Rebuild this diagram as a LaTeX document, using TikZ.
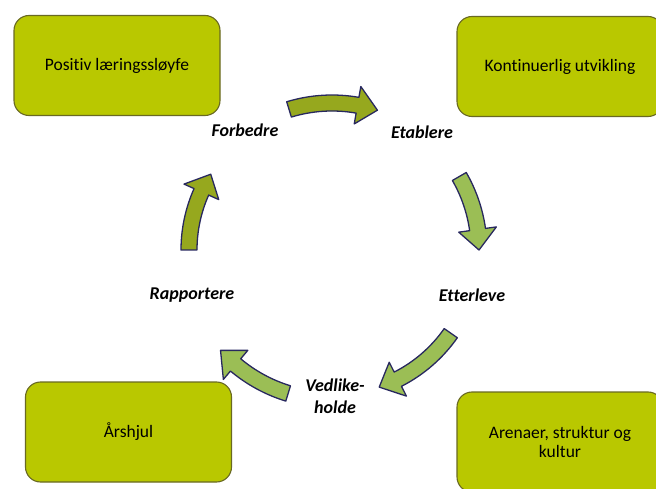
\documentclass[tikz,border=0pt]{standalone}
\usepackage{fontspec}
\setmainfont{Carlito}[Ligatures=NoCommon]
\usepackage{tikz}
\usetikzlibrary{positioning}

\definecolor{boxlime}{RGB}{185,200,0}
\definecolor{boxedge}{RGB}{105,105,35}
\definecolor{arrolive}{RGB}{150,168,30}
\definecolor{arrgreen}{RGB}{155,190,85}
\definecolor{arredge}{RGB}{40,40,95}

% curved block arrow round the centre: #1 start angle, #2 end angle, #3 radius, #4 fill
\newcommand{\bendarrow}[4]{%
  \filldraw[arrline, fill=#4]
    (#1:#3+8) arc[start angle=#1, end angle=#2+8, radius=#3+8]
    -- (#2+8:#3+19) -- (#2:#3) -- (#2+8:#3-19) -- (#2+8:#3-8)
    arc[start angle=#2+8, end angle=#1, radius=#3-8] -- cycle;}

\begin{document}
\begin{tikzpicture}[
    x=1pt, y=1pt,
    box/.style={rectangle, draw=boxedge, line width=1.1pt, fill=boxlime, rounded corners=15pt,
                minimum width=206pt, minimum height=100pt, align=center, font=\fontsize{17.5}{19}\selectfont},
    step label/.style={font=\fontsize{18}{22}\selectfont\bfseries\itshape, align=center},
    arrline/.style={draw=arredge, line width=1.3pt, line join=round}
]
\useasboundingbox (0,0) rectangle (656,488);
\clip (0,0) rectangle (656,488);
% outcome boxes in the corners
\node[box] (loop)  at (117,422.5) {Positiv læringssløyfe};
\node[box] (devel) at (560,421.5) {Kontinuerlig utvikling};
\node[box] (wheel) at (128.5,56)  {Årshjul};
\node[box] (arena) at (560,46)    {Arenaer, struktur og\\ kultur};
% steps of the cycle
\node[step label] (improve)  at (245,358) {Forbedre};
\node[step label] (establish) at (422,356) {Etablere};
\node[step label] (comply)   at (472,193) {Etterleve};
\node[step label] (maintain) at (335,92)  {Vedlike-\\holde};
\node[step label] (report)   at (192,193) {Rapportere};
% curved arrows between the steps
\coordinate (cen) at (332,238);
\begin{scope}[shift={(cen)}]
  \bendarrow{107}{72}{147}{arrolive}
  \bendarrow{30}{0}{147}{arrgreen}
  \bendarrow{-35}{-71}{145}{arrgreen}
  \bendarrow{-107}{-138}{150}{arrgreen}
  \bendarrow{180}{148}{143}{arrolive}
\end{scope}
\end{tikzpicture}
\end{document}
